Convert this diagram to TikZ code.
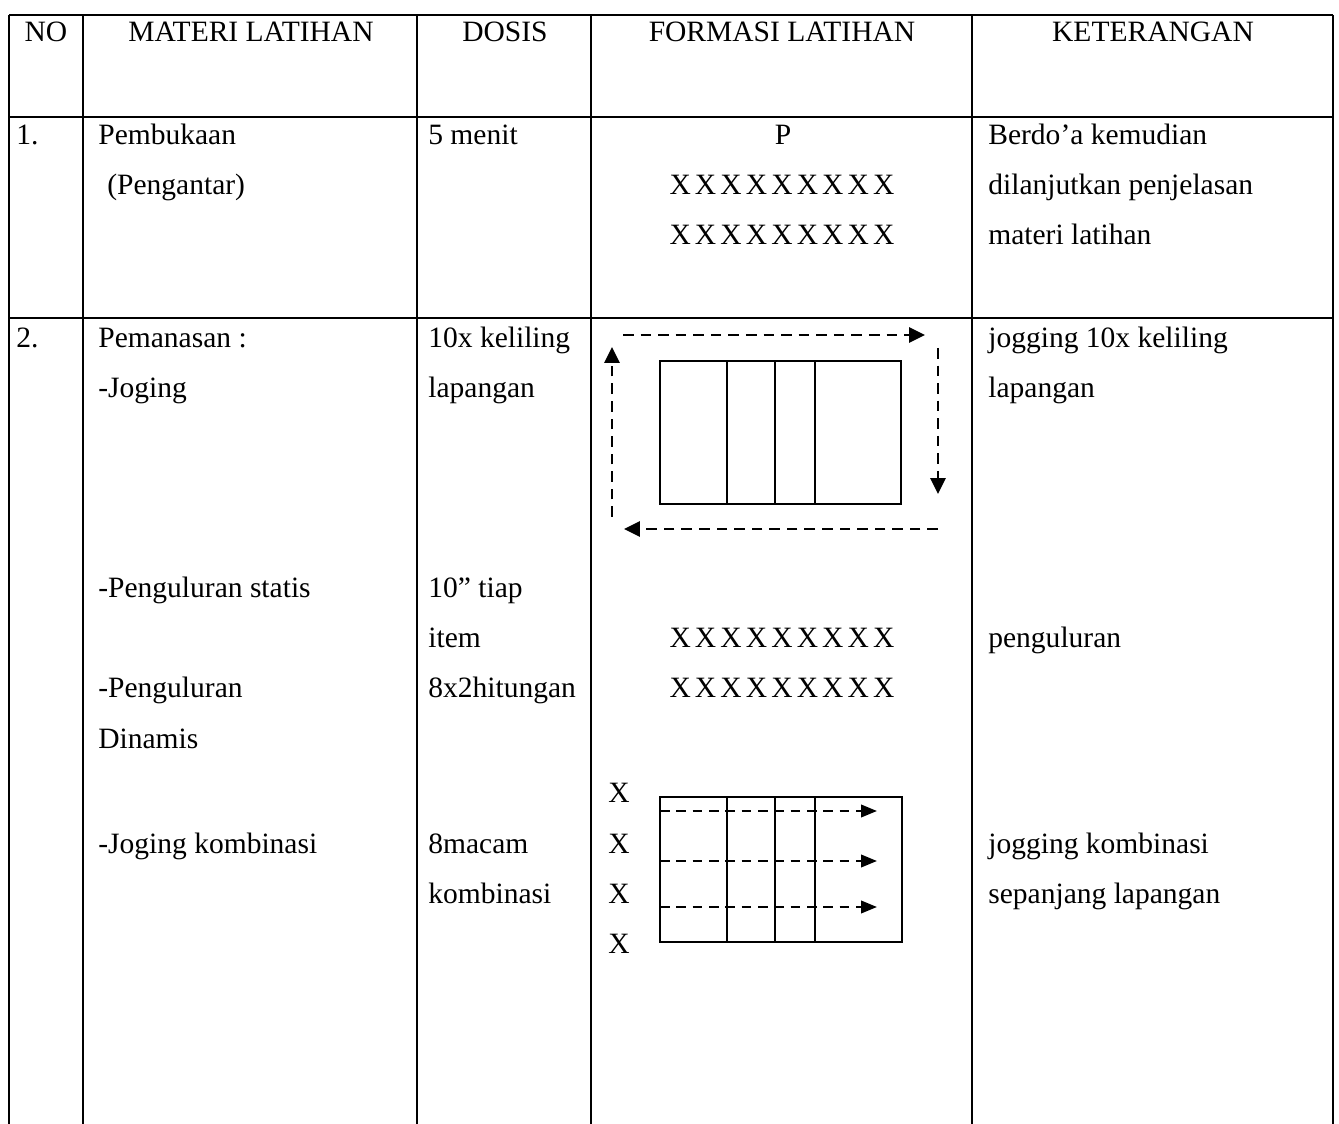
\documentclass[tikz,border=0pt]{standalone}
\usepackage{fontspec}
\setmainfont{Liberation Serif}
\usetikzlibrary{arrows.meta}

\begin{document}
\begin{tikzpicture}
		[x=0.02cm, y=-0.02cm,
		every node/.style={inner sep=0pt, font=\fontsize{16.8}{20}\selectfont},
		cell/.style={anchor=base west},
		head/.style={anchor=base},
		grid/.style={line width=1.1pt},
		court/.style={line width=1.1pt},
		run/.style={line width=1.6pt, dash pattern=on 6pt off 4pt, -{Triangle[length=9pt, width=8.5pt]}},
		runthin/.style={line width=1.4pt, dash pattern=on 5.5pt off 3.8pt, -{Triangle[length=9pt, width=7pt]}}]
		\useasboundingbox (0,0) rectangle (1339,1124);
		
		% table
		\draw[grid] (9,15) -- (1333,15);
		\draw[grid] (9,117) -- (1333,117);
		\draw[grid] (9,318) -- (1333,318);
		\foreach \x in {9,83,417,591,972,1333}
			\draw[grid] (\x,15) -- (\x,1124);
		
		% header
		\node[head] (hno) at (46,42) {NO};
		\node[head] (hmateri) at (251,42) {MATERI LATIHAN};
		\node[head] (hdosis) at (505,42) {DOSIS};
		\node[head] (hformasi) at (782,42) {FORMASI LATIHAN};
		\node[head] (hket) at (1153,42) {KETERANGAN};
		
		% row 1
		\node[cell] (no1) at (16,145) {1.};
		\node[cell] (buka) at (98,145) {Pembukaan};
		\node[cell] (antar) at (107,195) {(Pengantar)};
		\node[cell] (menit) at (428,145) {5 menit};
		\node[head] (pelatih) at (783,145) {P};
		\node[head] (baris1) at (782,195) {\spaceskip=0.14em X X X X X X X X X};
		\node[head] (baris2) at (782,245) {\spaceskip=0.14em X X X X X X X X X};
		\node[cell] (ket1a) at (988,145) {Berdo’a kemudian};
		\node[cell] (ket1b) at (988,195) {dilanjutkan penjelasan};
		\node[cell] (ket1c) at (988,245) {materi latihan};
		
		% row 2
		\node[cell] (no2) at (16,348) {2.};
		\node[cell] (panas) at (98,348) {Pemanasan :};
		\node[cell] (joging) at (98,398) {-Joging};
		\node[cell] (statis) at (98,598) {-Penguluran statis};
		\node[cell] (dinamis) at (98,698) {-Penguluran};
		\node[cell] (dinamis2) at (98,748) {Dinamis};
		\node[cell] (kombi) at (98,853) {-Joging kombinasi};
		\node[cell] (keliling) at (428,348) {10x keliling};
		\node[cell] (lapangan) at (428,398) {lapangan};
		\node[cell] (tiap) at (428,598) {10” tiap};
		\node[cell] (item) at (428,648) {item};
		\node[cell] (hitungan) at (428,698) {8x2hitungan};
		\node[cell] (macam) at (428,853) {8macam};
		\node[cell] (macam2) at (428,903) {kombinasi};
		\node[cell] (ket2a) at (988,348) {jogging 10x keliling};
		\node[cell] (ket2b) at (988,398) {lapangan};
		\node[cell] (ket2c) at (988,648) {penguluran};
		\node[cell] (ket2d) at (988,853) {jogging kombinasi};
		\node[cell] (ket2e) at (988,903) {sepanjang lapangan};
		\node[head] (baris3) at (782,648) {\spaceskip=0.14em X X X X X X X X X};
		\node[head] (baris4) at (782,698) {\spaceskip=0.14em X X X X X X X X X};
		\foreach \y [count=\i] in {803,853,903,953}
			\node[cell] (antri\i) at (608,\y) {X};
		
		% court 1, jogging round it
		\draw[court] (660,361) rectangle (901,504);
		\foreach \x in {727,775,815}
			\draw[court] (\x,361) -- (\x,504);
		\coordinate (ka) at (623,335);
		\coordinate (kb) at (925,335);
		\coordinate (kc) at (938,348);
		\coordinate (kd) at (938,494);
		\coordinate (ke) at (938,529);
		\coordinate (kf) at (624,529);
		\coordinate (kg) at (612,517);
		\coordinate (kh) at (612,347);
		\path[run] (ka) edge (kb);
		\path[run] (kc) edge (kd);
		\path[run] (ke) edge (kf);
		\path[run] (kg) edge (kh);
		
		% court 2, combination runs
		\draw[court] (660,797) rectangle (902,942);
		\foreach \x in {727,775,815}
			\draw[court] (\x,797) -- (\x,942);
		\foreach \y [count=\i] in {811,861,907} {
			\coordinate (start\i) at (660,\y);
			\coordinate (end\i) at (877,\y);
			\path[runthin] (start\i) edge (end\i);
		}
\end{tikzpicture}
\end{document}
